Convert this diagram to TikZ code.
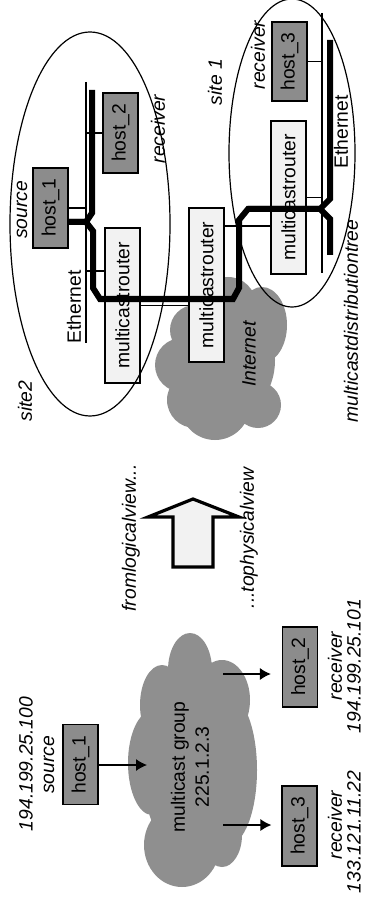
\documentclass[tikz,border=0pt]{standalone}
\usepackage{fontspec}
\setmainfont{Liberation Sans}
\usetikzlibrary{arrows.meta,calc}
\definecolor{hostgray}{HTML}{8C8C8C}
\definecolor{boxlight}{HTML}{F2F2F2}
\definecolor{cloudgray}{HTML}{8F8F8F}
\begin{document}
\begin{tikzpicture}[x=0.5pt,y=-0.5pt,
  every node/.style={font=\fontsize{9.65}{12}\selectfont, inner sep=0pt},
  hostbox/.style={draw=black, line width=0.6pt, fill=hostgray, rotate=90, minimum width=40pt, minimum height=17.5pt},
  routerbox/.style={draw=black, line width=0.6pt, fill=boxlight, rotate=90, minimum height=17.5pt},
  lbl/.style={rotate=90, font=\fontsize{9.65}{12}\selectfont\itshape},
  lan/.style={line width=0.6pt},
  link/.style={line width=0.6pt},
  treeline/.style={line width=3pt, line join=miter},
  siteell/.style={line width=0.6pt},
  logarrow/.style={line width=0.6pt, -{Latex[length=5.5pt,width=6pt]}},
  bigarrow/.style={line width=1.6pt, fill=boxlight, line join=miter}
]
\fill[white] (0,0) rectangle (364,903);
\useasboundingbox (0,0) rectangle (364,903);

% Internet cloud
\fill[cloudgray]
  (228,305) ellipse [x radius=14pt, y radius=14pt]
  (262,325) ellipse [x radius=12.5pt, y radius=19pt]
  (195,330) ellipse [x radius=12.5pt, y radius=12.5pt]
  (182,365) ellipse [x radius=13.5pt, y radius=13.5pt]
  (195,400) ellipse [x radius=14pt, y radius=14pt]
  (215,405) ellipse [x radius=17.5pt, y radius=17.5pt]
  (258,405) ellipse [x radius=11.5pt, y radius=11.5pt]
  (225,360) ellipse [x radius=25pt, y radius=30pt];

% multicast group cloud
\fill[cloudgray]
  (190,670) ellipse [x radius=11pt, y radius=18.5pt]
  (222,700) ellipse [x radius=14pt, y radius=20pt]
  (162,705) ellipse [x radius=11pt, y radius=20pt]
  (152,763) ellipse [x radius=12pt, y radius=26pt]
  (228,770) ellipse [x radius=14.5pt, y radius=37.5pt]
  (222,835) ellipse [x radius=10pt, y radius=16pt]
  (182,845) ellipse [x radius=19pt, y radius=21pt]
  (192,765) ellipse [x radius=25pt, y radius=47.5pt];

% Ethernet segments
\coordinate (e2t) at (86,82);
\coordinate (e2b) at (86,343);
\coordinate (e1t) at (322,13);
\coordinate (e1b) at (322,273);
\draw[lan] (e2t) -- (e2b);
\draw[lan] (e1t) -- (e1b);

% physical view boxes
\node[hostbox] (h1) at (50.5,208) {host\_1};
\node[hostbox] (h2) at (120.5,133) {host\_2};
\node[hostbox, minimum width=39.5pt] (h3) at (289.5,61.5) {host\_3};
\node[routerbox, minimum width=77.5pt] (r2) at (122.5,305.5) {multicastrouter};
\node[routerbox, minimum width=77pt] (rm) at (206.5,285) {multicastrouter};
\node[routerbox, minimum width=76.5pt] (r1) at (288.5,197.5) {multicastrouter};

% connectors to Ethernet
\coordinate (c2r) at (86,271);
\coordinate (cmid) at (0,226);
\draw[link] (h1.south) -- (h1.south -| e2t);
\draw[link] (h2.north) -- (h2.north -| e2t);
\draw[link] (r2.north |- c2r) -- (c2r);
\draw[link] (r2.south) -- (r2.south -| rm.north);
\draw[link] (rm.south |- cmid) -- (r1.north |- cmid);
\draw[link] (h3.south) -- (h3.south -| e1t);
\draw[link] (r1.south) -- (r1.south -| e1t);

% multicast distribution tree
\coordinate (j2) at (86,222);
\coordinate (j1) at (320,209);
\draw[treeline] (h1.south |- j2) -- (j2) -- (92,213) -- (92,90);
\draw[treeline] (h1.south |- j2) -- (j2) -- (93,231) -- (93,288) -- (100,299) -- (233,299) -- (239,288) -- (239,220) -- (248,209) -- (j1) -- (330,199) -- (330,40);
\draw[treeline] (248,209) -- (j1) -- (330,219) -- (330,255);

% sites
\draw[siteell] (90,224) ellipse [x radius=40pt, y radius=96pt];
\draw[siteell] (292,153) ellipse [x radius=31.5pt, y radius=77pt];

% physical labels
\node[lbl] (l1) at (22,210) {source};
\node[lbl] (l2) at (158,129) {receiver};
\node[rotate=90] (l3) at (74,307) {Ethernet};
\node[lbl] (l4) at (25,401) {site2};
\node[lbl] (l5) at (215,82) {site 1};
\node[lbl] (l6) at (258,55) {receiver};
\node[rotate=90] (l7) at (341,132) {Ethernet};
\node[lbl] (l8) at (351,321) {multicastdistributiontree};
\node[lbl] (l9) at (249,354) {Internet};

% big arrow
\draw[bigarrow] (193,499) -- (239,517) -- (213,517) -- (213,567) -- (173,567) -- (173,517) -- (148,517) -- cycle;
\node[lbl] (l10) at (131,538) {fromlogicalview...};
\node[lbl] (l11) at (249,538) {...tophysicalview};

% logical view
\node[rotate=90, align=center] (mg) at (190,767) {multicast group\\225.1.2.3};
\node[hostbox] (g1) at (80.5,764.5) {host\_1};
\node[hostbox] (g2) at (300,667) {host\_2};
\node[hostbox] (g3) at (299.5,826) {host\_3};
\coordinate (a1e) at (147,765);
\coordinate (a2s) at (223,674);
\coordinate (a3s) at (223,825);
\draw[logarrow] (g1.south |- a1e) -- (a1e);
\draw[logarrow, shorten >=5.5pt] (a2s) -- (g2.north |- a2s);
\draw[logarrow, shorten >=5pt] (a3s) -- (g3.north |- a3s);

\node[lbl] (n1) at (26,764) {194.199.25.100};
\node[lbl] (n2) at (49,765) {source};
\node[lbl] (n3) at (335,666) {receiver};
\node[lbl] (n4) at (354,666) {194.199.25.101};
\node[lbl] (n5) at (335,825) {receiver};
\node[lbl] (n6) at (354,832) {133.121.11.22};
\end{tikzpicture}
\end{document}
